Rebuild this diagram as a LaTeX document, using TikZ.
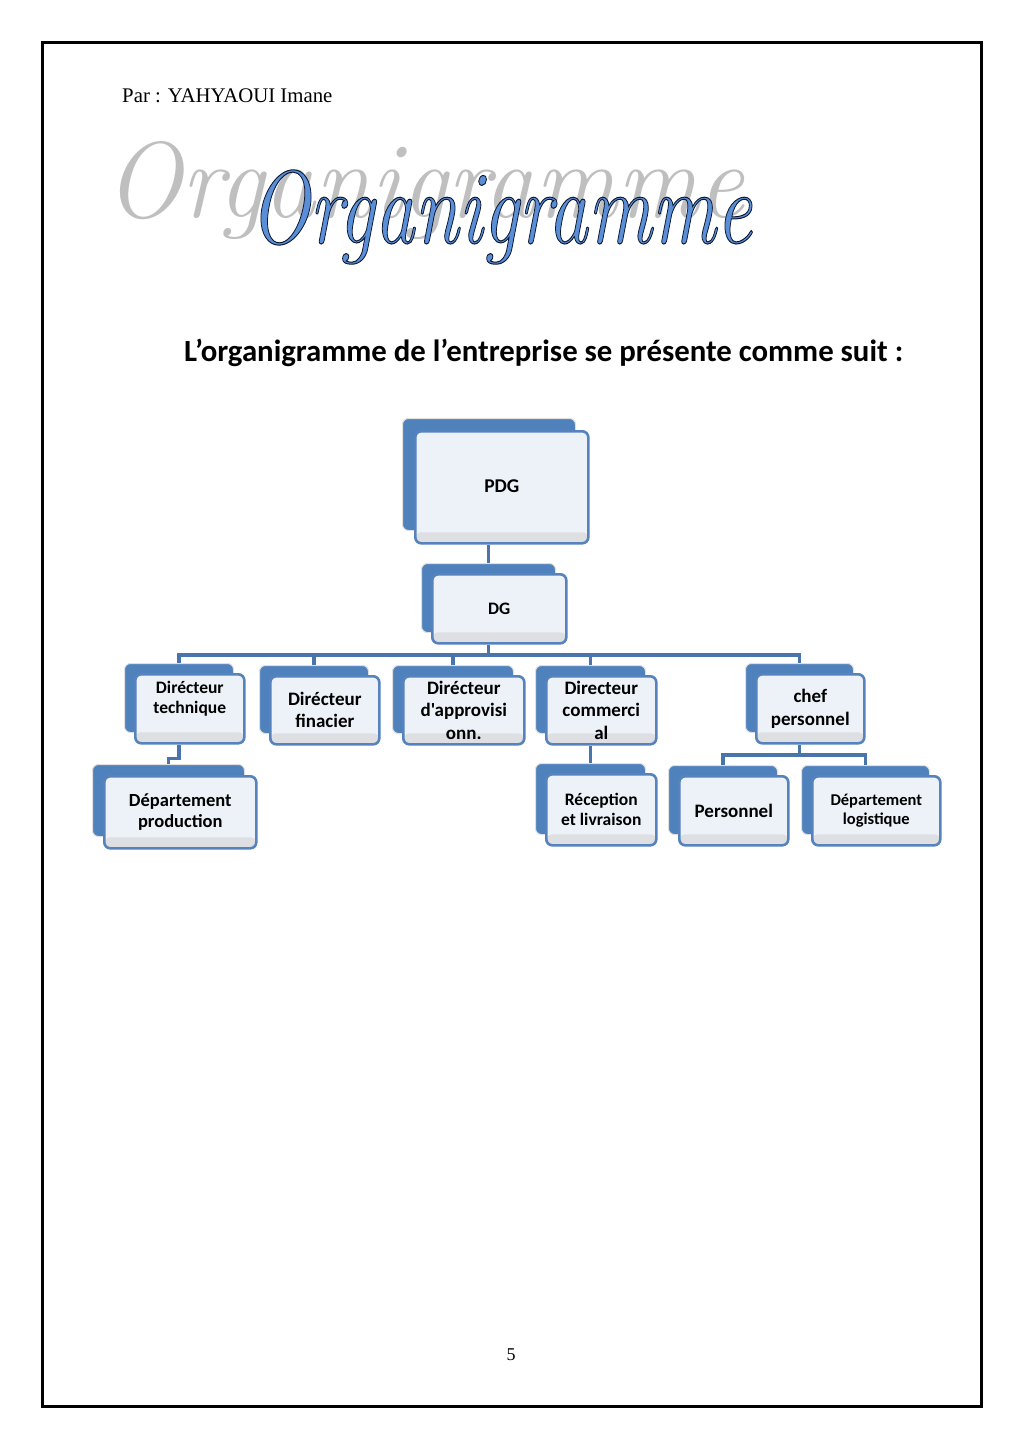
\documentclass[tikz,border=0pt]{standalone}
\usepackage{fontspec}
\setmainfont{Liberation Serif}
\newfontfamily\calfont{Carlito}
\newfontfamily\itserif{Latin Modern Roman}
\usetikzlibrary{calc}
\definecolor{backblue}{HTML}{4F81BD}
\definecolor{frontline}{HTML}{5683BE}
\definecolor{frontfill}{HTML}{EDF2F9}
\definecolor{bandgray}{HTML}{DDDFE3}
\definecolor{conncol}{HTML}{4A74AC}
\definecolor{wmgray}{HTML}{BFBFBF}
\definecolor{titleblue}{HTML}{5A8ED6}
\tikzset{
  backbox/.style={draw=gray!25, line width=1pt, fill=backblue, rounded corners=6pt,
    inner sep=0pt, anchor=north west},
  frontbox/.style={draw=frontline, line width=2.6pt, fill=frontfill, rounded corners=6pt,
    inner sep=0pt, anchor=north west,
    path picture={\fill[bandgray] ([yshift=-2pt]path picture bounding box.south west)
      rectangle ([yshift=11pt]path picture bounding box.south east);}},
  boxtext/.style={align=center, inner sep=0pt, font=\calfont\bfseries},
  conn/.style={draw=conncol, line width=3.5pt, line join=miter}
}
% name, x, y (back top-left), w, h, offset, font, text shift, text
\newcommand\orgbox[9]{%
  \node[backbox, minimum width=#4pt, minimum height=#5pt] (#1b) at (#2,#3) {};
  \node[frontbox, minimum width=#4pt, minimum height=#5pt] (#1) at (#2+#6,#3+#6) {};
  \node[boxtext, font=\calfont\bfseries#7] (#1t) at ($(#1.center)+(0,#8)$) {#9};
}
\begin{document}
\begin{tikzpicture}[x=1pt,y=-1pt]
\useasboundingbox (0,0) rectangle (1024,1449);
\fill[white] (0,0) rectangle (1024,1449);
\draw[line width=3pt] (42,42) rectangle (981,1406);

\node[anchor=base west, inner sep=0pt] (author) at (122,102)
  {\fontsize{20.8}{24}\selectfont Par : YAHYAOUI Imane};

\node[anchor=base west, inner sep=0pt, text=wmgray] (wm) at (105,217)
  {\scalebox{0.943}[1]{\itserif\itshape\fontsize{108}{108}\selectfont Organigramme}};
\node[anchor=base west, inner sep=0pt, text=titleblue] (title) at (249,243)
  {\scalebox{0.77}[1]{\itserif\itshape\fontsize{104}{104}\selectfont\special{pdf:literal direct 2 Tr 1 w 0.05 0.1 0.2 RG}Organigramme\special{pdf:literal direct 0 Tr}}};

\node[anchor=base west, inner sep=0pt] (heading) at (184,361)
  {\calfont\bfseries\fontsize{30.8}{34}\selectfont L’organigramme de l’entreprise se présente comme suit :};

\orgbox{pdg}{402}{418}{173}{112}{12}{\fontsize{19.5}{22}\selectfont}{-1}{PDG}
\orgbox{dg}{421}{563}{134}{69}{10}{\fontsize{17.5}{20}\selectfont}{0}{DG}
\orgbox{tech}{124}{663}{109}{69}{10}{\fontsize{17.5}{20.5}\selectfont}{-10}{Dirécteur\\technique}
\orgbox{fin}{259}{665}{109}{68}{10}{\fontsize{19}{22}\selectfont}{0}{Dirécteur\\finacier}
\orgbox{appro}{392}{665}{121}{68}{10}{\fontsize{19}{22.5}\selectfont}{0}{Dirécteur\\d'approvisi\\onn.}
\orgbox{comm}{535}{665}{110}{68}{10}{\fontsize{19}{22.5}\selectfont}{0}{Directeur\\commerci\\al}
\orgbox{chef}{745}{663}{108}{69}{10}{\fontsize{19}{22.5}\selectfont}{0}{chef\\personnel}
\orgbox{prod}{92}{764}{152}{72}{11}{\fontsize{18.5}{21}\selectfont}{0}{Département\\production}
\orgbox{recep}{535}{763}{110}{71}{10}{\fontsize{17.5}{20}\selectfont}{0}{Réception\\et livraison}
\orgbox{pers}{668}{765}{109}{69}{10}{\fontsize{19}{22}\selectfont}{0}{Personnel}
\orgbox{log}{801}{765}{128}{69}{10}{\fontsize{16.5}{19}\selectfont}{0}{Département\\logistique}

\coordinate (bus) at (0,655);
\coordinate (bus2) at (0,755);
\draw[conn] (dgb |- pdg.south) -- (dgb.north);
\draw[conn] (dgb |- dg.south) -- (dgb |- bus);
\draw[conn] (techb.north) -- (techb |- bus) -- (chefb |- bus) -- (chefb.north);
\draw[conn] (finb |- bus) -- (finb.north);
\draw[conn] (approb |- bus) -- (approb.north);
\draw[conn] (commb |- bus) -- (commb.north);
\draw[conn] (techb |- tech.south) -- ++(0,14) -| (prodb.north);
\draw[conn] (commb |- comm.south) -- (recepb.north);
\draw[conn] (chefb |- chef.south) -- (chefb |- bus2);
\draw[conn] (persb.north) -- (persb |- bus2) -- (logb |- bus2) -- (logb.north);

\node[anchor=base, inner sep=0pt] (pagenum) at (511,1360) {\fontsize{18}{20}\selectfont 5};
\end{tikzpicture}
\end{document}
